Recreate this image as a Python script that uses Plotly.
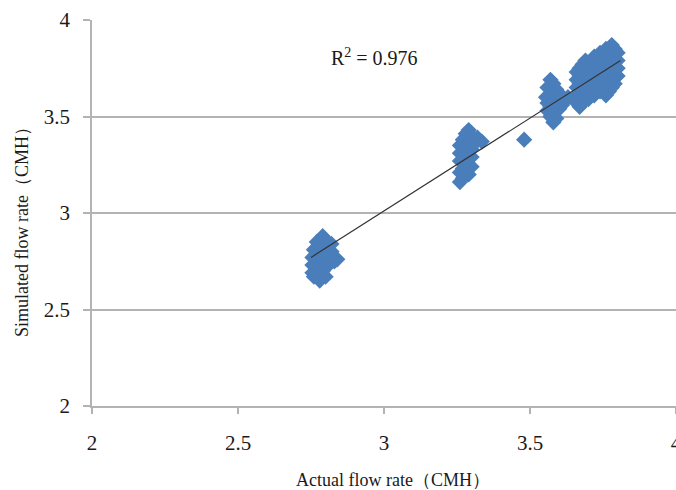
import plotly.graph_objects as go

# Cluster data (actual vs simulated flow rate, CMH)
c1_x = [2.79, 2.80, 2.77, 2.82, 2.78, 2.76, 2.80, 2.82, 2.77, 2.79, 2.755, 2.81, 2.84, 2.83, 2.77, 2.79, 2.755, 2.81, 2.77, 2.79, 2.755, 2.78, 2.76, 2.80, 2.78]
c1_y = [2.88, 2.86, 2.85, 2.84, 2.83, 2.81, 2.81, 2.80, 2.79, 2.78, 2.77, 2.77, 2.76, 2.75, 2.75, 2.74, 2.73, 2.73, 2.71, 2.70, 2.69, 2.68, 2.67, 2.67, 2.65]

c2_x = [3.29, 3.28, 3.30, 3.32, 3.335, 3.27, 3.29, 3.31, 3.26, 3.28, 3.30, 3.26, 3.28, 3.30, 3.26, 3.28, 3.30, 3.27, 3.26, 3.29, 3.27, 3.26, 3.48]
c2_y = [3.43, 3.41, 3.40, 3.39, 3.37, 3.38, 3.37, 3.36, 3.35, 3.34, 3.33, 3.31, 3.30, 3.29, 3.27, 3.26, 3.24, 3.23, 3.21, 3.20, 3.18, 3.16, 3.38]

c3_x = [3.57, 3.58, 3.56, 3.59, 3.57, 3.60, 3.555, 3.58, 3.61, 3.56, 3.59, 3.61, 3.57, 3.60, 3.56, 3.58, 3.57, 3.59, 3.58, 3.63]
c3_y = [3.69, 3.67, 3.65, 3.64, 3.62, 3.62, 3.60, 3.60, 3.59, 3.57, 3.57, 3.56, 3.55, 3.54, 3.53, 3.52, 3.50, 3.49, 3.47, 3.60]

c4_x = [3.78,
        3.76, 3.79,
        3.74, 3.77, 3.80,
        3.72, 3.75, 3.78,
        3.69, 3.73, 3.76, 3.80,
        3.68, 3.71, 3.74, 3.78,
        3.67, 3.70, 3.73, 3.76, 3.80,
        3.66, 3.69, 3.72, 3.75, 3.78,
        3.67, 3.70, 3.73, 3.77, 3.80,
        3.66, 3.68, 3.71, 3.74, 3.78,
        3.67, 3.70, 3.73, 3.76, 3.79,
        3.66, 3.69, 3.72, 3.75, 3.78,
        3.67, 3.70, 3.74, 3.77,
        3.66, 3.69, 3.72, 3.76,
        3.67, 3.70,
        3.66, 3.68,
        3.67]
c4_y = [3.87,
        3.85, 3.85,
        3.83, 3.83, 3.83,
        3.81, 3.81, 3.81,
        3.79, 3.79, 3.79, 3.79,
        3.77, 3.77, 3.77, 3.77,
        3.75, 3.75, 3.75, 3.75, 3.75,
        3.73, 3.73, 3.73, 3.73, 3.73,
        3.71, 3.71, 3.71, 3.71, 3.71,
        3.69, 3.69, 3.69, 3.69, 3.69,
        3.67, 3.67, 3.67, 3.67, 3.67,
        3.65, 3.65, 3.65, 3.65, 3.65,
        3.63, 3.63, 3.63, 3.63,
        3.61, 3.61, 3.61, 3.61,
        3.59, 3.59,
        3.57, 3.57,
        3.55]

trend_x = [2.75, 3.81]
trend_y = [2.77, 3.79]

tick_vals = [2, 2.5, 3, 3.5, 4]
r2_text = "R<sup>2</sup> = 0.976"
x_title = "Actual flow rate（CMH）"
y_title = "Simulated flow rate（CMH）"

all_x = c1_x + c2_x + c3_x + c4_x
all_y = c1_y + c2_y + c3_y + c4_y

FONT = "Liberation Serif, Times New Roman, serif"
GRID = "#B3B3B3"
TXT = "#1a1a1a"

fig = go.Figure()
fig.add_trace(go.Scatter(
    x=all_x, y=all_y, mode="markers",
    marker=dict(symbol="diamond", size=12.5, color="#4A7EBB", line=dict(width=0)),
    showlegend=False, hoverinfo="x+y"))
fig.add_trace(go.Scatter(
    x=trend_x, y=trend_y, mode="lines",
    line=dict(color="#333333", width=1.2), showlegend=False))

fig.update_layout(
    width=676, height=490,
    margin=dict(l=92, r=0, t=20, b=84),
    paper_bgcolor="white", plot_bgcolor="white",
    font=dict(family=FONT, color=TXT),
    xaxis=dict(range=[2, 4], tickvals=tick_vals, showgrid=False, zeroline=False,
               showline=True, linecolor=GRID, linewidth=1.5, automargin=False,
               ticks="outside", ticklen=6, tickcolor=GRID, tickwidth=1.5,
               tickfont=dict(size=21, family=FONT, color=TXT),
               ticklabelstandoff=11, ticklabeloverflow="allow"),
    yaxis=dict(range=[2, 4], tickvals=tick_vals, showgrid=True, gridcolor=GRID,
               gridwidth=1.5, zeroline=False, automargin=False,
               showline=True, linecolor=GRID, linewidth=1.5,
               ticks="outside", ticklen=7, tickcolor=GRID, tickwidth=1.5,
               tickfont=dict(size=21, family=FONT, color=TXT),
               ticklabelstandoff=9, ticklabeloverflow="allow"),
    annotations=[
        dict(x=2.966, y=3.81, xref="x", yref="y", text=r2_text, showarrow=False,
             font=dict(size=20, family=FONT, color=TXT)),
        dict(x=393, y=480, xref="paper", yref="paper", text=x_title, showarrow=False,
             font=dict(size=18, family=FONT, color=TXT)),
        dict(x=22, y=228, xref="paper", yref="paper", text=y_title, showarrow=False,
             textangle=-90, font=dict(size=18, family=FONT, color=TXT)),
    ],
)

# convert pixel-based annotation positions into paper coordinates
W, H = 676, 490
L, R, T, B = 92, 0, 20, 84
pw, ph = W - L - R, H - T - B
ann = list(fig.layout.annotations)
for a in ann[1:]:
    px, py = a.x, a.y
    a.x = (px - L) / pw
    a.y = (H - B - py) / ph
    a.xanchor = "center"
    a.yanchor = "middle"
fig.layout.annotations = ann

fig.write_html("out.html")
